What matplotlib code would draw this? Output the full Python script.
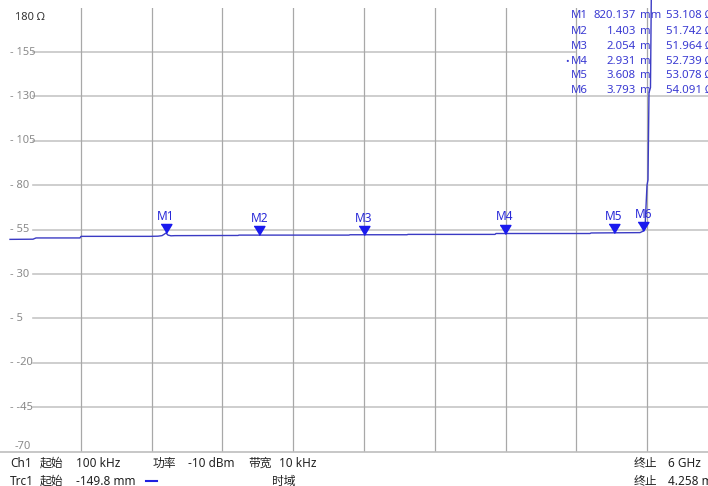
import matplotlib
matplotlib.use("Agg")
import matplotlib.pyplot as plt
from matplotlib.lines import Line2D

plt.rcParams['font.family'] = ['Noto Sans', 'Noto Sans CJK SC', 'DejaVu Sans']

# ---------------- data ----------------
# trace: distance (m) vs impedance (Ohm)
trace_dist = [-0.1498, -0.0066, 0.0121, 0.2860, 0.2922, 0.7218, 0.7716, 0.7965,
              0.8090, 0.8214, 0.8339, 0.8525, 0.8774, 1.2697, 1.2760, 1.9607,
              1.9670, 2.3218, 2.3280, 2.8697, 2.8760, 3.4612, 3.4675, 3.7724,
              3.7911, 3.8035, 3.8160, 3.8222, 3.8284, 3.8377, 3.8471, 4.1958]
trace_ohm = [49.5, 49.6, 50.3, 50.3, 51.2, 51.2, 51.3, 51.6,
             52.3, 53.1, 51.9, 51.5, 51.6, 51.7, 51.9, 51.9,
             52.1, 52.1, 52.3, 52.3, 52.8, 52.8, 53.1, 53.3,
             54.1, 56.0, 80.0, 83.0, 132.0, 135.0, 230.0, 230.0]

marker_names = ["M1", "M2", "M3", "M4", "M5", "M6"]
marker_dist = [0.820137, 1.403, 2.054, 2.931, 3.608, 3.793]
marker_ohm = [53.108, 51.742, 51.964, 52.739, 53.078, 54.091]
marker_dist_text = ["820.137", "1.403", "2.054", "2.931", "3.608", "3.793"]
marker_units = ["mm", "m", "m", "m", "m", "m"]
active_marker = "M4"

y_ticks = [155, 130, 105, 80, 55, 30, 5, -20, -45]
y_min, y_max = -70, 180
x_start, x_stop = -0.1498, 4.258
x_div = (x_stop - x_start) / 10

# ---------------- figure ----------------
W, H = 708, 486
fig = plt.figure(figsize=(W / 100, H / 100), dpi=100)
fig.patch.set_facecolor('white')

def fx(px):
    return px / W

def fy(py):
    return 1 - py / H

left_px, right_px, top_px, bot_px = 10, 708, 7.6, 451.6
ax = fig.add_axes([fx(left_px), fy(bot_px), (right_px - left_px) / W, (bot_px - top_px) / H])
x_right = x_start + (right_px - left_px) / 708 * (x_stop - x_start)
ax.set_xlim(x_start, x_right)
ax.set_ylim(y_min, y_max)
ax.axis('off')

# grid
hcol = '#c6c6c6'
vcol = '#a8a8a8'
x_grid_left = x_start + 23 / 708 * (x_stop - x_start)
table_left = x_start + (575 - 10) / 708 * (x_stop - x_start)
for v in y_ticks:
    xe = table_left if v == 155 else x_right
    ax.plot([x_grid_left, xe], [v, v], color=hcol, lw=1.2, zorder=1)
for k in range(1, 10):
    xv = x_start + k * x_div
    ax.plot([xv, xv], [y_min, y_max], color=vcol, lw=0.9, zorder=1)
# bottom line (full width)
ax.plot([x_start - 10 / 708 * (x_stop - x_start), x_right], [y_min, y_min],
        color='#bdbdbd', lw=1.2, zorder=1, clip_on=False)

# y labels
for v in y_ticks:
    ax.text(0.0, v, f"- {v}", transform=ax.get_yaxis_transform(), ha='left',
            va='center', fontsize=8, color='#8a8a8a')
fig.text(fx(15), fy(17), "180 Ω", ha='left', va='center', fontsize=8, color='#333333')
fig.text(fx(15), fy(446), "-70", ha='left', va='center', fontsize=8, color='#8a8a8a')

# trace
ax.plot(trace_dist, trace_ohm, color='#3b3bc4', lw=1.0, zorder=3, clip_on=False)

# markers
tri = [(-0.6, 1.0), (0.6, 1.0), (0.0, 0.0)]
for name, d, v in zip(marker_names, marker_dist, marker_ohm):
    ax.plot([d], [v], marker=tri, markersize=13, color='#1a1aee', zorder=5,
            linestyle='none')
    ax.annotate(name, (d, v), xytext=(0, 12.0), textcoords='offset points',
                ha='center', va='center', fontsize=8.5, color='#2a2ad8',
                fontweight='bold' if name == active_marker else 'normal', zorder=6)

# marker table
tcol = '#3a3ad2'
tfs = 8.2
row_y = [16, 31.5, 46.5, 61.5, 76, 90.5]
for i, name in enumerate(marker_names):
    y = row_y[i]
    if name == active_marker:
        fig.text(fx(565), fy(y), "•", ha='left', va='center', fontsize=7, color=tcol)
    fig.text(fx(571), fy(y), name, ha='left', va='center', fontsize=tfs, color=tcol)
    fig.text(fx(636), fy(y), marker_dist_text[i], ha='right', va='center', fontsize=tfs, color=tcol)
    fig.text(fx(640), fy(y), marker_units[i], ha='left', va='center', fontsize=tfs, color=tcol)
    fig.text(fx(666), fy(y), f"{marker_ohm[i]:.3f} Ω", ha='left', va='center', fontsize=tfs, color=tcol)

# bottom status text
txt = '#222222'
r1, r2 = 463, 481
fs = 8.5
fig.text(fx(10), fy(r1), "Ch1", ha='left', va='center', fontsize=fs, color=txt)
fig.text(fx(40), fy(r1), "起始", ha='left', va='center', fontsize=fs, color=txt)
fig.text(fx(76), fy(r1), "100 kHz", ha='left', va='center', fontsize=fs, color=txt)
fig.text(fx(153), fy(r1), "功率", ha='left', va='center', fontsize=fs, color=txt)
fig.text(fx(188), fy(r1), "-10 dBm", ha='left', va='center', fontsize=fs, color=txt)
fig.text(fx(248), fy(r1), "带宽", ha='left', va='center', fontsize=fs, color=txt)
fig.text(fx(279), fy(r1), "10 kHz", ha='left', va='center', fontsize=fs, color=txt)
fig.text(fx(634), fy(r1), "终止", ha='left', va='center', fontsize=fs, color=txt)
fig.text(fx(668), fy(r1), "6 GHz", ha='left', va='center', fontsize=fs, color=txt)

fig.text(fx(10), fy(r2), "Trc1", ha='left', va='center', fontsize=fs, color=txt)
fig.text(fx(40), fy(r2), "起始", ha='left', va='center', fontsize=fs, color=txt)
fig.text(fx(76), fy(r2), "-149.8 mm", ha='left', va='center', fontsize=fs, color=txt)
fig.add_artist(Line2D([fx(146), fx(157)], [fy(r2), fy(r2)], color='#2020e0', lw=1.5))
fig.text(fx(272), fy(r2), "时域", ha='left', va='center', fontsize=fs, color=txt)
fig.text(fx(634), fy(r2), "终止", ha='left', va='center', fontsize=fs, color=txt)
fig.text(fx(668), fy(r2), "4.258 m", ha='left', va='center', fontsize=fs, color=txt)

fig.savefig("out.png", dpi=100)
